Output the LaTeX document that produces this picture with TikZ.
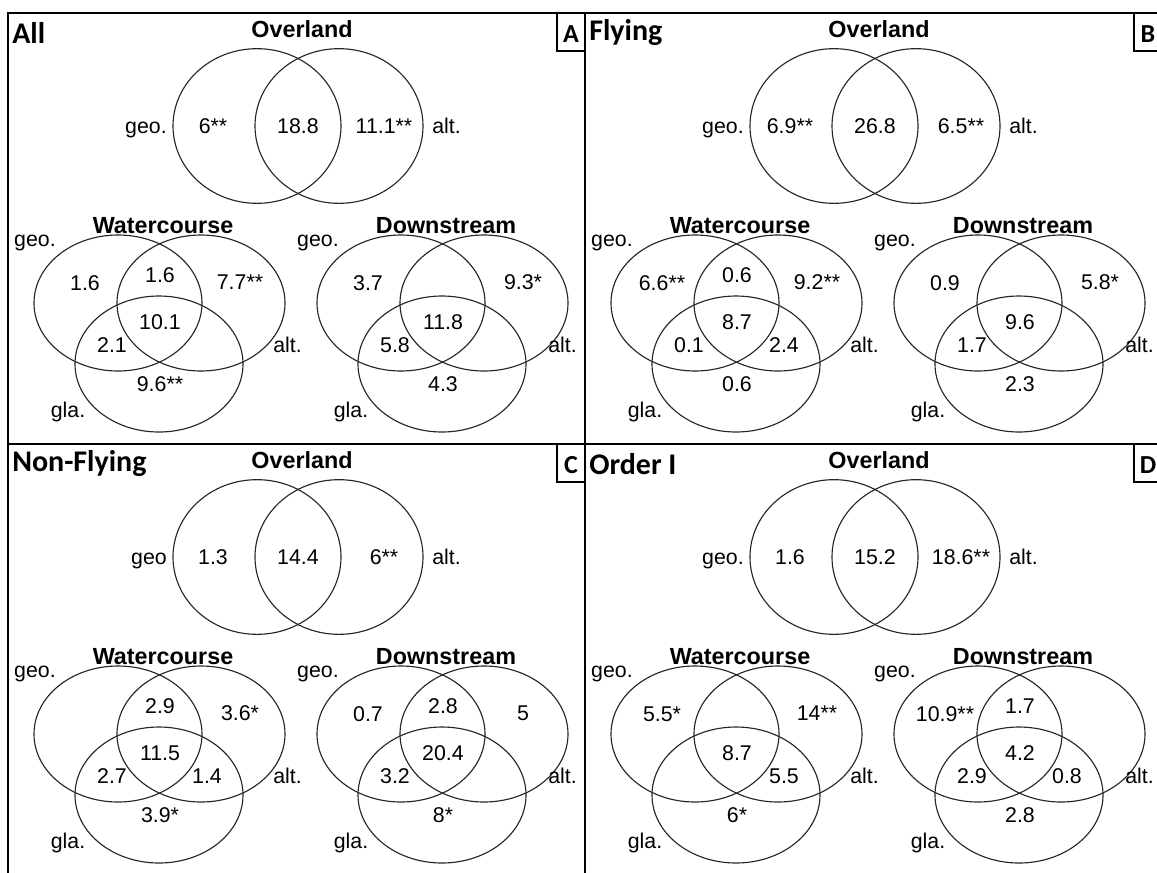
\documentclass[tikz,border=0pt]{standalone}
\usepackage{fontspec}
\setmainfont{Liberation Sans}
\newfontfamily\calfont{Carlito}
\tikzset{
  venn/.style={line width=0.85pt, draw=black!85},
  num/.style={font=\fontsize{16}{19}\selectfont, inner sep=0pt},
  ttl/.style={font=\fontsize{17.5}{21}\selectfont\bfseries, inner sep=0pt},
  ptitle/.style={font=\calfont\fontsize{22.5}{26}\selectfont\bfseries, anchor=west, inner sep=0pt},
  letter/.style={font=\calfont\fontsize{19.5}{22}\selectfont\bfseries, inner sep=0pt},
  framel/.style={line width=2.2pt},
  lbox/.style={line width=1.1pt}
}
\newcommand{\optnum}[3]{\if\relax\detokenize{#3}\relax\else\node[num] at (#1,#2) {#3};\fi}
\newcommand{\ovl}[5]{%
  \draw[venn] (257,126) ellipse [x radius=63pt, y radius=58pt];
  \draw[venn] (339,126) ellipse [x radius=63pt, y radius=58pt];
  \node[ttl] (#1ov) at (302,29) {Overland};
  \node[num,anchor=base east] (#1og) at (167,133) {#2};
  \node[num] (#1o1) at (213,126) {#3};
  \node[num] (#1o2) at (298,126) {#4};
  \node[num] (#1o3) at (384,126) {#5};
  \node[num,anchor=base west] (#1oa) at (432,133) {alt.};
}
\newcommand{\altx}{302}
\newcommand{\trip}[9]{%
  \draw[venn] (118,303) ellipse [x radius=63pt, y radius=51pt];
  \draw[venn] (201,303) ellipse [x radius=63pt, y radius=51pt];
  \draw[venn] (159,364) ellipse [x radius=63pt, y radius=51pt];
  \node[ttl] (#1t) at (163,226) {#2};
  \node[num] (#1g) at (35,243) {geo.};
  \node[num,anchor=east] (#1a) at (\altx,345) {alt.};
  \node[num] (#1l) at (68,412) {gla.};
  \optnum{85}{283}{#3}
  \optnum{160}{275}{#4}
  \optnum{240}{282}{#5}
  \optnum{160}{322}{#6}
  \optnum{112}{345}{#7}
  \optnum{207}{345}{#8}
  \optnum{160}{384}{#9}
}
\newcommand{\setw}{\renewcommand{\altx}{302}}
\newcommand{\setd}{\renewcommand{\altx}{294}}
\begin{document}
\begin{tikzpicture}[x=0.75pt,y=-0.75pt]
\useasboundingbox (0,0) rectangle (1157,872);
\clip (0,0) rectangle (1157,872);
% frame
\draw[framel] (8,880) -- (8,13) -- (1170,13);
\draw[framel] (585,13) -- (585,880);
\draw[framel] (8,444) -- (1170,444);
% panel A
\begin{scope}
  \node[ptitle] (tA) at (12,33) {All};
  \draw[lbox] (557,13) rectangle (585,51);
  \node[letter] (lA) at (571,34) {A};
  \ovl{A}{geo.}{6**}{18.8}{11.1**}
  \setw\trip{Aw}{Watercourse}{1.6}{1.6}{7.7**}{10.1}{2.1}{}{9.6**}
  \begin{scope}[shift={(283,0)}]
    \setd\trip{Ad}{Downstream}{3.7}{}{9.3*}{11.8}{5.8}{}{4.3}
  \end{scope}
\end{scope}
% panel B
\begin{scope}[shift={(577,0)}]
  \node[ptitle] (tB) at (12,33) {Flying};
  \draw[lbox] (557,13) rectangle (590,51);
  \node[letter] (lB) at (571,34) {B};
  \ovl{B}{geo.}{6.9**}{26.8}{6.5**}
  \setw\trip{Bw}{Watercourse}{6.6**}{0.6}{9.2**}{8.7}{0.1}{2.4}{0.6}
  \begin{scope}[shift={(283,0)}]
    \setd\trip{Bd}{Downstream}{0.9}{}{5.8*}{9.6}{1.7}{}{2.3}
  \end{scope}
\end{scope}
% panel C
\begin{scope}[shift={(0,431)}]
  \node[ptitle] (tC) at (12,33) {Non-Flying};
  \draw[lbox] (557,13) rectangle (585,51);
  \node[letter] (lC) at (571,34) {C};
  \ovl{C}{geo}{1.3}{14.4}{6**}
  \setw\trip{Cw}{Watercourse}{}{2.9}{3.6*}{11.5}{2.7}{1.4}{3.9*}
  \begin{scope}[shift={(283,0)}]
    \setd\trip{Cd}{Downstream}{0.7}{2.8}{5}{20.4}{3.2}{}{8*}
  \end{scope}
\end{scope}
% panel D
\begin{scope}[shift={(577,431)}]
  \node[ptitle] (tD) at (12,33) {Order I};
  \draw[lbox] (557,13) rectangle (590,51);
  \node[letter] (lD) at (571,34) {D};
  \ovl{D}{geo.}{1.6}{15.2}{18.6**}
  \setw\trip{Dw}{Watercourse}{5.5*}{}{14**}{8.7}{}{5.5}{6*}
  \begin{scope}[shift={(283,0)}]
    \setd\trip{Dd}{Downstream}{10.9**}{1.7}{}{4.2}{2.9}{0.8}{2.8}
  \end{scope}
\end{scope}
\end{tikzpicture}
\end{document}
